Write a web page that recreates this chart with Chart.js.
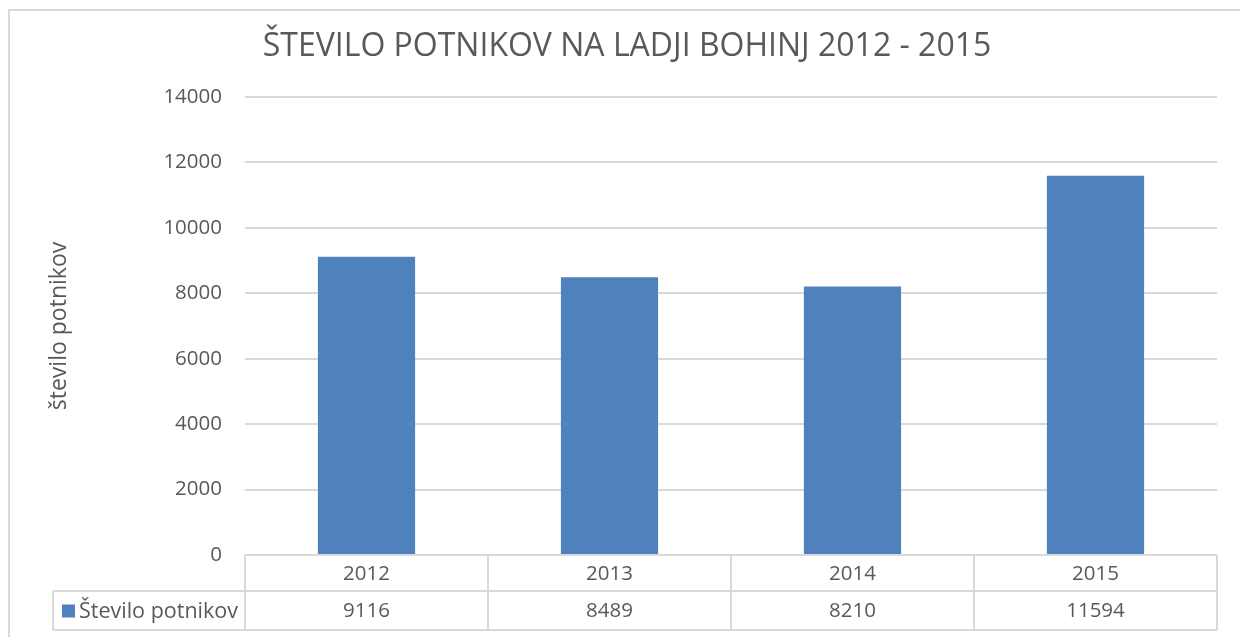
<!DOCTYPE html>
<html>
<head>
<meta charset="utf-8">
<title>Število potnikov na ladji Bohinj</title>
<script src="https://cdn.jsdelivr.net/npm/chart.js@4.4.1/dist/chart.umd.min.js"></script>
<style>
  html, body { margin: 0; padding: 0; background: #fff; }
  #wrap { width: 1240px; height: 637px; position: relative; }
</style>
</head>
<body>
<div id="wrap"><canvas id="grafLadja"></canvas></div>
<script>
const leta = ['2012', '2013', '2014', '2015'];
const potniki = [9116, 8489, 8210, 11594];
const oznakeY = [0, 2000, 4000, 6000, 8000, 10000, 12000, 14000];
const naslov = 'ŠTEVILO POTNIKOV NA LADJI BOHINJ 2012 - 2015';

const barva = '#4F81BD';
const sivaBesedila = '#595959';
const sivaCrt = '#D9D9D9';
const pisava = "'Open Sans', sans-serif";

// okvir grafa (samo levi in zgornji rob sta vidna) in naslov
const okvir = {
  id: 'okvir',
  beforeDraw(chart) {
    const c = chart.ctx;
    c.save();
    c.fillStyle = '#fff';
    c.fillRect(0, 0, chart.width, chart.height);
    c.strokeStyle = sivaCrt;
    c.lineWidth = 2;
    c.beginPath();
    c.moveTo(9, chart.height);
    c.lineTo(9, 10);
    c.lineTo(chart.width, 10);
    c.stroke();

    c.fillStyle = sivaBesedila;
    c.font = '32px ' + pisava;
    c.textAlign = 'center';
    c.textBaseline = 'middle';
    c.fillText(naslov, 627, 47);
    c.restore();
  }
};

// podatkovna tabela pod osjo x
const tabela = {
  id: 'tabela',
  afterDraw(chart) {
    const c = chart.ctx;
    const x = chart.scales.x;
    const area = chart.chartArea;
    const sirina = x.getPixelForValue(1) - x.getPixelForValue(0);
    const levo = area.left;
    const desno = area.right;
    const vrh = area.bottom;
    const sredina = vrh + 36;
    const dno = vrh + 75;
    const zacetekOznake = 53;

    c.save();
    c.strokeStyle = sivaCrt;
    c.lineWidth = 2;
    c.beginPath();
    c.moveTo(levo, vrh); c.lineTo(desno, vrh);
    c.moveTo(zacetekOznake, sredina); c.lineTo(desno, sredina);
    c.moveTo(zacetekOznake, dno); c.lineTo(desno, dno);
    c.moveTo(zacetekOznake, sredina); c.lineTo(zacetekOznake, dno);
    leta.forEach((l, i) => {
      const xl = x.getPixelForValue(i) - sirina / 2;
      c.moveTo(xl, vrh); c.lineTo(xl, dno);
    });
    c.moveTo(desno, vrh); c.lineTo(desno, dno);
    c.stroke();

    c.fillStyle = sivaBesedila;
    c.font = '20.5px ' + pisava;
    c.textAlign = 'center';
    c.textBaseline = 'middle';
    leta.forEach((l, i) => {
      const xs = x.getPixelForValue(i);
      c.fillText(l, xs, (vrh + sredina) / 2 + 1);
      c.fillText(String(potniki[i]), xs, (sredina + dno) / 2 + 1);
    });

    // legenda v tabeli
    const yv = (sredina + dno) / 2;
    c.fillStyle = barva;
    c.fillRect(62, yv - 6, 13, 13);
    c.fillStyle = sivaBesedila;
    c.textAlign = 'left';
    c.font = '21.5px ' + pisava;
    c.fillText(chart.data.datasets[0].label, 79, yv + 1);
    c.restore();
  }
};

new Chart(document.getElementById('grafLadja'), {
  type: 'bar',
  data: {
    labels: leta,
    datasets: [{
      label: 'Število potnikov',
      data: potniki,
      backgroundColor: barva,
      borderWidth: 0,
      barPercentage: 0.4,
      categoryPercentage: 1
    }]
  },
  options: {
    responsive: true,
    maintainAspectRatio: false,
    animation: false,
    layout: {
      padding: { top: 97, right: 23, bottom: 82, left: 10 }
    },
    plugins: {
      legend: { display: false },
      tooltip: { enabled: false },
      title: { display: false }
    },
    scales: {
      x: {
        display: false
      },
      y: {
        min: 0,
        max: 14000,
        afterBuildTicks(axis) {
          axis.ticks = oznakeY.map(v => ({ value: v }));
        },
        afterFit(axis) {
          axis.width = 235;
        },
        border: { display: false },
        grid: { color: sivaCrt, lineWidth: 2, drawTicks: false },
        ticks: {
          color: sivaBesedila,
          padding: 23,
          font: { family: pisava, size: 20.5 },
          callback: v => String(v)
        },
        title: {
          display: true,
          text: 'število potnikov',
          color: sivaBesedila,
          font: { family: pisava, size: 23 },
          padding: { top: 36, bottom: 0 }
        }
      }
    }
  },
  plugins: [okvir, tabela]
});
</script>
</body>
</html>
